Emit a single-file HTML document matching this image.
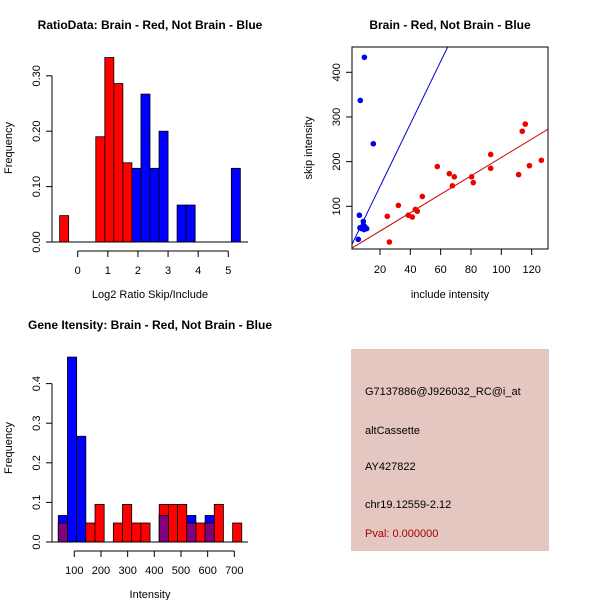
<!DOCTYPE html>
<html><head><meta charset="utf-8"><style>
html,body{margin:0;padding:0;background:#fff}
svg{display:block;font-family:"Liberation Sans",sans-serif}
</style></head><body>
<svg id="chart" width="600" height="600" viewBox="0 0 600 600" xmlns="http://www.w3.org/2000/svg">
<rect width="600" height="600" fill="#fff"/>
<g id="p1"></g>
<g id="p2"></g>
<g id="p3"></g>
<g>
<rect x="351" y="349" width="198" height="202" fill="#e5c7c1"/>
<text x="365" y="395" font-size="11">G7137886@J926032_RC@i_at</text>
<text x="365" y="434" font-size="11">altCassette</text>
<text x="365" y="470" font-size="11">AY427822</text>
<text x="365" y="508" font-size="11">chr19.12559-2.12</text>
<text x="365" y="537" font-size="11" fill="#a00000">Pval: 0.000000</text>
</g>
</svg>
<script>
const NS="http://www.w3.org/2000/svg";
// Panel 1 data
const ratioRedStarts=[-0.6,0.6,0.9,1.2,1.5];
const ratioRedFreq=[0.0476,0.19,0.333,0.286,0.143];
const ratioBlueStarts=[1.8,2.1,2.4,2.7,3.3,3.6,5.1];
const ratioBlueFreq=[0.133,0.267,0.133,0.2,0.0667,0.0667,0.133];
const ratioBinWidth=0.3;
const ratioXTicks=[0,1,2,3,4,5];
const ratioYTicks=[0,0.1,0.2,0.3];
const ratioYLabels=["0.00","0.10","0.20","0.30"];
// Panel 2 data
const redInclude=[24.8,26.2,32.1,38.7,41.3,43.3,44.6,47.9,57.8,65.7,69.0,67.7,80.4,81.5,93.0,93.0,111.4,113.8,115.8,118.5,126.4];
const redSkip=[77.6,20,102,80,76,93,89,122,189,173,166,146,166,153,216,185,171,268,284,191,203];
const blueInclude=[9.7,7.0,15.6,6.4,5.7,6.8,9.0,9.0,10.1,11.2,7.9,9.5];
const blueSkip=[433.6,337,240,80,26,52,66,58,54,50,50,48];
const redFit=[3.3,2.06];
const blueFit=[4.3,7.0];
const scatXTicks=[20,40,60,80,100,120];
const scatYTicks=[100,200,300,400];
// Panel 3 data
const intBinStart=40, intBinWidth=34.4;
const intBlueFreq=[0.067,0.467,0.267,0,0,0,0,0,0,0,0,0.067,0,0,0.067,0,0.067,0,0,0];
const intRedFreq=[0.048,0,0,0.048,0.095,0,0.048,0.095,0.048,0.048,0,0.095,0.095,0.095,0.048,0.048,0.048,0.095,0,0.048];
const intXTicks=[100,200,300,400,500,600,700];
const intYTicks=[0,0.1,0.2,0.3,0.4];
const intYLabels=["0.0","0.1","0.2","0.3","0.4"];

function mk(parent,tag,attrs,name,text){
  const e=document.createElementNS(NS,tag);
  for(const k in attrs)e.setAttribute(k,attrs[k]);
  
  
  if(text!==undefined)e.textContent=text;
  parent.appendChild(e);return e;
}
function title(g,x,t,y){mk(g,'text',{x:x,y:y,'font-size':12,'font-weight':'bold','text-anchor':'middle'},'plot-title',t);}
function yAxis(g,x,y0,y1,ticks,labels,sy){
  mk(g,'line',{x1:x,y1:sy(ticks[0]),x2:x,y2:sy(ticks[ticks.length-1]),stroke:'#000'},'y-axis-line');
  ticks.forEach((t,i)=>{
    mk(g,'line',{x1:x-6,y1:sy(t),x2:x,y2:sy(t),stroke:'#000'},'y-tick');
    mk(g,'text',{x:0,y:0,'font-size':11,'text-anchor':'middle',transform:`translate(${x-12},${sy(t)}) rotate(-90)`},'y-tick-label',labels[i]);
  });
}
function xAxis(g,y,ticks,labels,sx){
  mk(g,'line',{x1:sx(ticks[0]),y1:y,x2:sx(ticks[ticks.length-1]),y2:y,stroke:'#000'},'x-axis-line');
  ticks.forEach((t,i)=>{
    mk(g,'line',{x1:sx(t),y1:y,x2:sx(t),y2:y+6,stroke:'#000'},'x-tick');
    mk(g,'text',{x:sx(t),y:y+23,'font-size':11,'text-anchor':'middle'},'x-tick-label',labels[i]);
  });
}
// Panel 1
(function(){
  const g=document.getElementById('p1');
  const sx=v=>77.7+v*30.12, sy=v=>242-v*554;
  title(g,150,'RatioData: Brain - Red, Not Brain - Blue',29);
  ratioRedStarts.forEach((s,i)=>mk(g,'rect',{x:sx(s),y:sy(ratioRedFreq[i]),width:sx(s+ratioBinWidth)-sx(s),height:sy(0)-sy(ratioRedFreq[i]),fill:'#ff0000',stroke:'#000','stroke-width':0.8},'bar-red'));
  ratioBlueStarts.forEach((s,i)=>mk(g,'rect',{x:sx(s),y:sy(ratioBlueFreq[i]),width:sx(s+ratioBinWidth)-sx(s),height:sy(0)-sy(ratioBlueFreq[i]),fill:'#0000ff',stroke:'#000','stroke-width':0.8},'bar-blue'));
  mk(g,'line',{x1:52,y1:sy(0),x2:248,y2:sy(0),stroke:'#000'},'baseline');
  yAxis(g,52,0,0,ratioYTicks,ratioYLabels,sy);
  xAxis(g,251,ratioXTicks,ratioXTicks.map(String),sx);
  mk(g,'text',{x:150,y:298,'font-size':11,'text-anchor':'middle'},'x-axis-title','Log2 Ratio Skip/Include');
  mk(g,'text',{x:0,y:0,'font-size':11,'text-anchor':'middle',transform:'translate(12,148) rotate(-90)'},'y-axis-title','Frequency');
})();
// Panel 2
(function(){
  const g=document.getElementById('p2');
  const sx=v=>380+(v-20)*1.5167, sy=v=>206.3-(v-100)*0.4467;
  title(g,450,'Brain - Red, Not Brain - Blue',29);
  const cp=mk(g,'clipPath',{id:'c2'},'clip');
  mk(cp,'rect',{x:352,y:47,width:196,height:202},'clip-rect');
  const L=mk(g,'g',{'clip-path':'url(#c2)'},'plot-area');
  const x0=1.3,x1=131;
  mk(L,'line',{x1:sx(x0),y1:sy(blueFit[0]+blueFit[1]*x0),x2:sx(x1),y2:sy(blueFit[0]+blueFit[1]*x1),stroke:'#0000cc'},'blue-fit-line');
  mk(L,'line',{x1:sx(x0),y1:sy(redFit[0]+redFit[1]*x0),x2:sx(x1),y2:sy(redFit[0]+redFit[1]*x1),stroke:'#cc0000'},'red-fit-line');
  redInclude.forEach((v,i)=>mk(L,'circle',{cx:sx(v),cy:sy(redSkip[i]),r:2.8,fill:'#ee0000'},'point-red'));
  blueInclude.forEach((v,i)=>mk(L,'circle',{cx:sx(v),cy:sy(blueSkip[i]),r:2.8,fill:'#0000ee'},'point-blue'));
  mk(g,'rect',{x:352,y:47,width:196,height:202,fill:'none',stroke:'#000'},'plot-box');
  scatXTicks.forEach(t=>{mk(g,'line',{x1:sx(t),y1:249,x2:sx(t),y2:255,stroke:'#000'},'x-tick');
    mk(g,'text',{x:sx(t),y:273,'font-size':11,'text-anchor':'middle'},'x-tick-label',String(t));});
  scatYTicks.forEach(t=>{mk(g,'line',{x1:346,y1:sy(t),x2:352,y2:sy(t),stroke:'#000'},'y-tick');
    mk(g,'text',{x:0,y:0,'font-size':11,'text-anchor':'middle',transform:`translate(340,${sy(t)}) rotate(-90)`},'y-tick-label',String(t));});
  mk(g,'text',{x:450,y:298,'font-size':11,'text-anchor':'middle'},'x-axis-title','include intensity');
  mk(g,'text',{x:0,y:0,'font-size':11,'text-anchor':'middle',transform:'translate(312,148) rotate(-90)'},'y-axis-title','skip intensity');
})();
// Panel 3
(function(){
  const g=document.getElementById('p3');
  const sx=v=>74.3+(v-100)*0.2667, sy=v=>542-v*396;
  title(g,150,'Gene Itensity: Brain - Red, Not Brain - Blue',329);
  const w=intBinWidth;
  intBlueFreq.forEach((f,i)=>{if(f>0)mk(g,'rect',{x:sx(intBinStart+i*w),y:sy(f),width:sx(intBinStart+(i+1)*w)-sx(intBinStart+i*w),height:sy(0)-sy(f),fill:'#0000ff',stroke:'#000','stroke-width':0.8},'bar-blue');});
  intRedFreq.forEach((f,i)=>{if(f>0)mk(g,'rect',{x:sx(intBinStart+i*w),y:sy(f),width:sx(intBinStart+(i+1)*w)-sx(intBinStart+i*w),height:sy(0)-sy(f),fill:'#ff0000',stroke:'#000','stroke-width':0.8},'bar-red');});
  intRedFreq.forEach((f,i)=>{const m=Math.min(f,intBlueFreq[i]);if(m>0)mk(g,'rect',{x:sx(intBinStart+i*w),y:sy(m),width:sx(intBinStart+(i+1)*w)-sx(intBinStart+i*w),height:sy(0)-sy(m),fill:'#800080',stroke:'#000','stroke-width':0.8},'bar-overlap');});
  mk(g,'line',{x1:52,y1:sy(0),x2:248,y2:sy(0),stroke:'#000'},'baseline');
  yAxis(g,52,0,0,intYTicks,intYLabels,sy);
  xAxis(g,551,intXTicks,intXTicks.map(String),sx);
  mk(g,'text',{x:150,y:598,'font-size':11,'text-anchor':'middle'},'x-axis-title','Intensity');
  mk(g,'text',{x:0,y:0,'font-size':11,'text-anchor':'middle',transform:'translate(12,448) rotate(-90)'},'y-axis-title','Frequency');
})();
</script>
</body></html>
